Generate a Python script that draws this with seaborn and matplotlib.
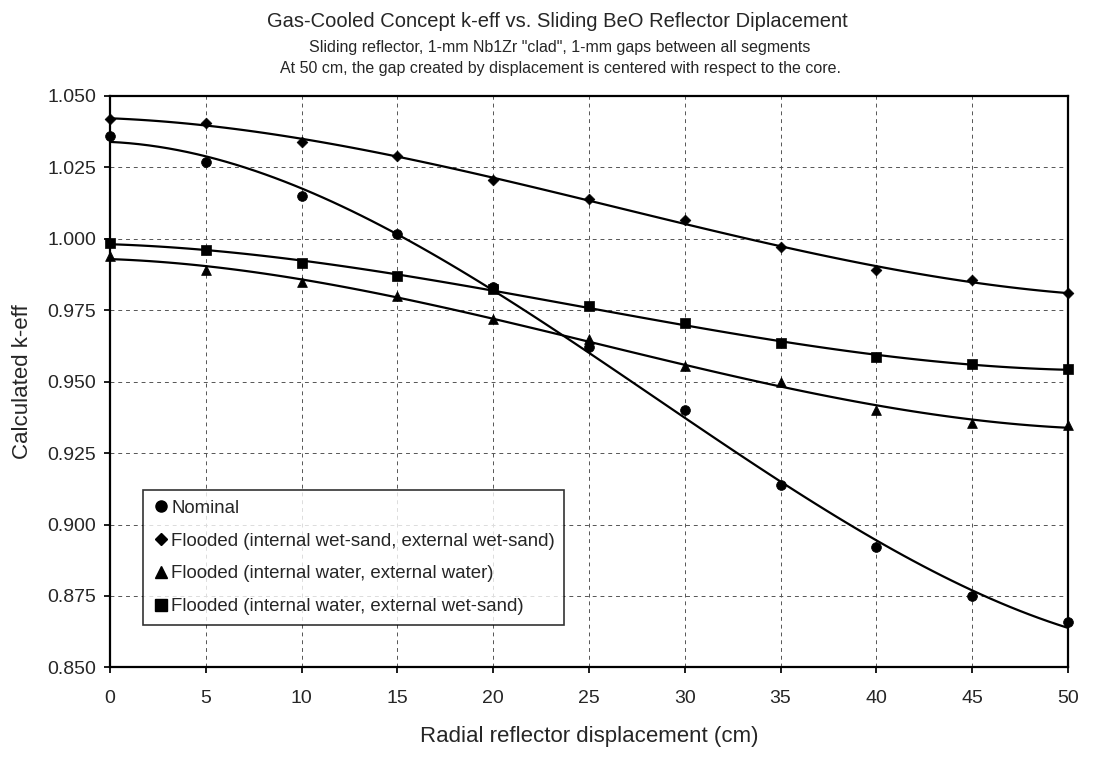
import matplotlib
matplotlib.use("Agg")
import matplotlib.pyplot as plt
from matplotlib.lines import Line2D
import numpy as np
import pandas as pd
import seaborn as sns

# ------------------------------- Data ----------------------------------------------

displacement = [0, 5, 10, 15, 20, 25, 30, 35, 40, 45, 50]
nominal = [1.036, 1.027, 1.015, 1.0015, 0.983, 0.962, 0.940, 0.914, 0.892, 0.875, 0.866]
wet_sand = [1.042, 1.0405, 1.034, 1.029, 1.0205, 1.014, 1.0065, 0.997, 0.989, 0.9855, 0.981]
water = [0.994, 0.989, 0.985, 0.980, 0.972, 0.965, 0.9555, 0.950, 0.940, 0.9355, 0.935]
water_sand = [0.9985, 0.996, 0.9915, 0.987, 0.9825, 0.9765, 0.9705, 0.9635, 0.9585, 0.956, 0.9545]

series_names = ["Nominal",
                "Flooded (internal wet-sand, external wet-sand)",
                "Flooded (internal water, external water)",
                "Flooded (internal water, external wet-sand)"]
series_values = [nominal, wet_sand, water, water_sand]
series_markers = ["o", "D", "^", "s"]
marker_sizes = [50, 30, 50, 46]

y_ticks = [0.850, 0.875, 0.900, 0.925, 0.950, 0.975, 1.000, 1.025, 1.050]
x_ticks = [0, 5, 10, 15, 20, 25, 30, 35, 40, 45, 50]


def build_frame():
    rows = []
    for name, vals in zip(series_names, series_values):
        for x, y in zip(displacement, vals):
            rows.append({"disp": x, "keff": y, "series": name})
    return pd.DataFrame(rows)


# ------------------------------- Visualization ----------------------------------------------

def draw_plot(df):
    sns.set_theme(style="white")
    plt.rcParams["font.family"] = ["Liberation Sans", "DejaVu Sans"]

    fig = plt.figure(figsize=(11.09, 7.61), dpi=100)
    ax = fig.add_axes([0.0992, 0.123, 0.8638, 0.751])

    # polynomial trend lines (like the spreadsheet's trendlines)
    for name in series_names:
        sub = df[df["series"] == name]
        sns.regplot(x="disp", y="keff", data=sub, order=3, ci=None, scatter=False,
                    truncate=True, ax=ax, line_kws={"color": "black", "lw": 1.6, "zorder": 3})

    for name, m, s in zip(series_names, series_markers, marker_sizes):
        sub = df[df["series"] == name]
        sns.scatterplot(x="disp", y="keff", data=sub, marker=m, s=s, color="black",
                        edgecolor="black", linewidth=0.5, ax=ax, zorder=4, legend=False,
                        clip_on=False)

    ax.set_xlim(0, 50)
    ax.set_ylim(0.850, 1.050)
    ax.set_xticks(x_ticks)
    ax.set_yticks(y_ticks)
    ax.set_yticklabels([f"{v:.3f}" for v in y_ticks])
    ax.tick_params(axis="both", labelsize=14, length=4, direction="out", color="black",
                   left=True, bottom=True)
    ax.tick_params(axis="x", pad=12)
    ax.tick_params(axis="y", pad=6)
    ax.grid(True, color="#555555", linestyle=(0, (4, 4)), linewidth=0.7)
    for sp in ax.spines.values():
        sp.set_color("black")
        sp.set_linewidth(1.6)

    ax.set_xlabel("Radial reflector displacement (cm)", fontsize=16, labelpad=14)
    ax.set_ylabel("Calculated k-eff", fontsize=16, labelpad=10)

    fig.text(0.503, 0.972, "Gas-Cooled Concept k-eff vs. Sliding BeO Reflector Diplacement",
             ha="center", va="center", fontsize=14.5)
    fig.text(0.505, 0.937, "Sliding reflector, 1-mm Nb1Zr \"clad\", 1-mm gaps between all segments",
             ha="center", va="center", fontsize=11.5)
    fig.text(0.505, 0.910, "At 50 cm, the gap created by displacement is centered with respect to the core.",
             ha="center", va="center", fontsize=11.5)

    handles = [Line2D([], [], linestyle="none", marker=m, color="black",
                      markersize=(8 if m != "D" else 6))
               for m in series_markers]
    leg = ax.legend(handles, series_names, loc="lower left", bbox_to_anchor=(0.034, 0.075),
                    fontsize=13.4, frameon=True, fancybox=False, handletextpad=0.05,
                    handlelength=1.0, borderpad=0.5, labelspacing=0.85, borderaxespad=0)
    leg.get_frame().set_edgecolor("black")
    leg.get_frame().set_linewidth(1.2)

    plt.savefig("out.png", dpi=100)
    plt.close()


def main():
    df = build_frame()
    draw_plot(df)


if __name__ == "__main__":
    main()
